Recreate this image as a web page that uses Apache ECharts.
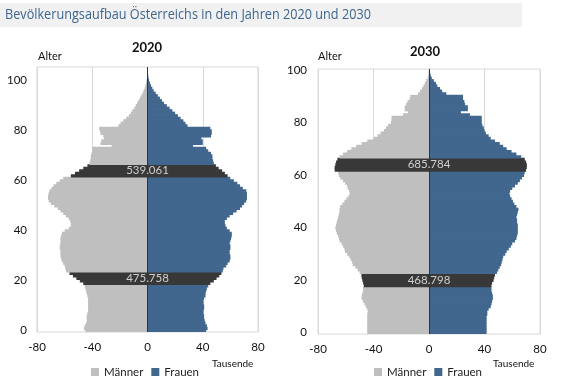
<!DOCTYPE html>
<html><head><meta charset="utf-8">
<script src="https://cdn.jsdelivr.net/npm/echarts@6/dist/echarts.min.js"></script>
<style>html,body{margin:0;padding:0;background:#fff}#c{width:573px;height:384px}</style>
</head><body><div id="c"></div>
<script>
// ---- data (thousands) ----
const title = 'Bevölkerungsaufbau Österreichs in den Jahren 2020 und 2030';
const years = ['2020', '2030'];
const xTicks = [-80, -40, 0, 40, 80];
const seriesNames = ['Männer', 'Frauen'];
// ages 0..105 (2020)
const men2020 = [-45,-46,-45.5,-44.5,-44,-44,-44,-43.5,-43,-43,-43,-43,-43,-43,-43.5,-44,-44.5,-45,-45.5,-46.5,
 -49,-51.5,-54,-56.5,-59,-59.5,-60,-61,-62,-62.5,-63,-63,-63,-63.5,-63.5,-63,-63,-63,-62.5,-62,
 -60,-57,-55.5,-55.5,-56,-57,-59,-61,-63,-65,-67.5,-70,-71.5,-72,-72,-71.5,-71,-69.5,-68,-66,
 -63.5,-61,-55.5,-52.5,-49.5,-46.5,-43.5,-42,-41.5,-41,-41,-40.5,-40,-40,-26,-34,-33.5,-31.5,-32,-34,
 -34.5,-35,-21,-19.5,-17.5,-15.5,-13.5,-12,-11,-9.5,-8.5,-7.5,-6.5,-5.5,-4.5,-3.5,-2.8,-2,-1.5,-1,
 -0.7,-0.4,-0.3,-0.2,-0.1,-0.05];
const women2020 = [42.5,43.5,43,42,41.5,41,41,40.5,40.5,41,41,40.5,40.5,41,42,42,42.5,43,44,45.5,
 48,50,52,53.5,54.5,55,57,58,59.5,60,60,59.5,59.5,60,60,59.5,60,60.5,61,61,
 59.5,57.5,56.5,56,56,57.5,59.5,62,64.5,67,68.5,70,71.5,72,72,72,71.5,69,67,65,
 62.5,60,58,56,54,51.5,49.5,48,47.5,47,47,46,44,42.5,33,40,40,39,46,46.5,
 46.5,45.5,29,27.5,26,24,22,20,18,16,14,12,10.5,9,7.5,6,4.5,3.5,2.5,1.8,
 1.2,0.8,0.5,0.3,0.2,0.1];
// ages 0..100 (2030)
const men2030 = [-44.5,-44.5,-44.5,-44.5,-44.5,-44.5,-44.5,-44.5,-44,-44.5,-45.5,-46.5,-47.5,-48.5,-48.5,-48,-47.5,-47.5,-47,-47.5,
 -48,-48.5,-48.7,-50,-51.5,-53,-55,-55.5,-56.5,-57.5,-59,-60.5,-61,-62,-63,-64.5,-65,-65.5,-66.5,-67,
 -67.5,-67,-66.5,-66,-65.5,-65,-64.5,-64.5,-64,-62.5,-61,-59.5,-58,-57,-57.5,-58.5,-59,-60.5,-62,-64,
 -65,-65.5,-68,-68,-67.5,-67,-66,-64.5,-62,-59,-56,-52.5,-48.5,-44.5,-40,-37,-35,-32.5,-31,-29.5,
 -27.5,-27,-27,-18.7,-15,-17.5,-17.5,-16.5,-15.5,-14,-13.5,-8,-6.5,-5,-4,-3,-2,-1,-0.5,-0.3,-0.2];
const women2030 = [41.5,41.5,41.5,41.5,41.5,41.5,41.5,42,42,43,44.5,45,45.5,46,46,45.5,45,45,45,45.5,
 46.5,47,47.5,49,50,51,52,52.5,53,53.5,55,56,57.5,59,60,62,63,63.5,64,64,
 64,64,63.5,63.5,63,63.5,64,64.5,63,61.5,60.5,59.5,58.5,58,58.5,60,62,64,65.5,67,
 68.5,69,70,70.5,70.5,70,69,66.5,63,59.5,56,53.5,51,47.5,44.5,43,41,40,39.5,38.5,
 38,38,38,29.5,23,28,28,26,25.5,24.5,24.5,12.5,9.5,8,6,5,3.5,2,1.2,0.8,0.5];
// highlighted age groups and their totals
const bandAges2020 = [[19,23],[62,66]];
const bandAges2030 = [[18,22],[62,66]];
const bandLabels2020 = ['475.758', '539.061'];
const bandLabels2030 = ['468.798', '685.784'];

// ---- styles ----
const GREY = '#bfbfbf', BLUE = '#41678f', DARK = '#383838';
const FONT = 'Lato, "Noto Sans", sans-serif';

const ages2020 = men2020.map((_, i) => String(i));
const ages2030 = men2030.map((_, i) => String(i));

function inBand(age, bands) { return bands.some(b => age >= b[0] && age <= b[1]); }
function items(vals, bands) {
  return vals.map((v, i) => inBand(i, bands) ? {value: v, itemStyle: {color: DARK}} : v);
}

const grids = [
  {left: 37, right: 315, top: 67, bottom: 52},
  {left: 318, right: 33, top: 69, bottom: 50}
];
const sets = [
  {men: men2020, women: women2020, ages: ages2020, bands: bandAges2020, labels: bandLabels2020},
  {men: men2030, women: women2030, ages: ages2030, bands: bandAges2030, labels: bandLabels2030}
];

const option = {
  animation: false,
  textStyle: {fontFamily: FONT},
  grid: grids.map(g => Object.assign({show: true, borderColor: '#d9d9d9', borderWidth: 1, containLabel: false}, g)),
  xAxis: grids.map((g, i) => ({
    gridIndex: i, type: 'value', min: xTicks[0], max: xTicks[xTicks.length - 1], interval: 40,
    axisLine: {show: false}, axisTick: {show: false},
    splitLine: {show: true, lineStyle: {color: '#d9d9d9', width: 1}},
    axisLabel: {color: '#111', fontSize: 11.5, margin: 9, fontFamily: FONT}
  })),
  yAxis: sets.map((s, i) => ({
    gridIndex: i, type: 'category', data: s.ages,
    axisLine: {show: false}, axisTick: {show: false}, splitLine: {show: false},
    axisLabel: {interval: 19, color: '#111', fontSize: 11.5, margin: i ? 11 : 10, fontFamily: FONT}
  })),
  legend: [
    {data: seriesNames, left: 86, top: 361, icon: 'rect', itemWidth: 8, itemHeight: 8, itemGap: 8,
     textStyle: {fontSize: 11.5, color: '#222', fontFamily: FONT}},
    {data: seriesNames, left: 369, top: 361, icon: 'rect', itemWidth: 8, itemHeight: 8, itemGap: 8,
     textStyle: {fontSize: 11.5, color: '#222', fontFamily: FONT}}
  ],
  series: [],
  graphic: [
    {type: 'rect', left: 0, top: 3, shape: {width: 522, height: 24}, style: {fill: '#f1f1f1'}, z: -1},
    {type: 'text', x: 5, y: 7, scaleX: 0.845, style: {text: title, fill: '#3d6590', fontSize: 15, fontFamily: '"Open Sans", sans-serif'}},
    {type: 'text', left: 132, top: 41, style: {text: years[0], fill: '#111', fontSize: 13, fontWeight: 'bold', fontFamily: FONT}},
    {type: 'text', left: 410, top: 45, style: {text: years[1], fill: '#111', fontSize: 13, fontWeight: 'bold', fontFamily: FONT}},
    {type: 'text', left: 38, top: 51, style: {text: 'Alter', fill: '#111', fontSize: 11, fontFamily: FONT}},
    {type: 'text', left: 318, top: 51, style: {text: 'Alter', fill: '#111', fontSize: 11, fontFamily: FONT}},
    {type: 'text', left: 212, top: 359, style: {text: 'Tausende', fill: '#111', fontSize: 10, fontFamily: FONT}},
    {type: 'text', left: 493, top: 359, style: {text: 'Tausende', fill: '#111', fontSize: 10, fontFamily: FONT}}
  ]
};

sets.forEach((s, i) => {
  option.series.push({
    name: seriesNames[0], type: 'bar', xAxisIndex: i, yAxisIndex: i,
    data: items(s.men, s.bands), itemStyle: {color: GREY},
    barWidth: '130%', barGap: '-100%', silent: true
  });
  option.series.push({
    name: seriesNames[1], type: 'bar', xAxisIndex: i, yAxisIndex: i,
    data: items(s.women, s.bands), itemStyle: {color: BLUE},
    barWidth: '130%', barGap: '-100%', silent: true,
    markLine: {silent: true, symbol: 'none', label: {show: false},
      lineStyle: {color: '#333', width: 1, type: 'solid'}, data: [{xAxis: 0}]}
  });
  option.series.push({
    name: 'labels' + i, type: 'scatter', xAxisIndex: i, yAxisIndex: i, z: 5,
    symbolSize: 1, itemStyle: {color: 'rgba(0,0,0,0)'}, silent: true,
    data: s.bands.map((b, k) => ({value: [0, (b[0] + b[1]) / 2], name: s.labels[k]})),
    label: {show: true, position: 'inside', formatter: p => p.name, color: '#f2f2f2', fontSize: 11.5, fontFamily: FONT}
  });
});

const chart = echarts.init(document.getElementById('c'), null, {renderer: 'canvas'});
chart.setOption(option);
</script></body></html>
